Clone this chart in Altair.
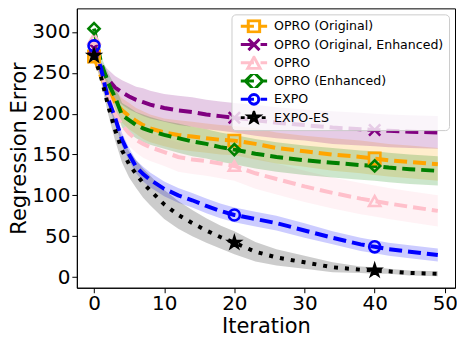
import math
import altair as alt
import pandas as pd

# ---------------- data ----------------
iterations = [0, 1, 2, 3, 4, 5, 6, 7, 8, 10, 12, 14, 16, 18, 20, 23, 26, 30, 34, 38, 40, 42, 45, 49]

series_names = ["OPRO (Original)", "OPRO (Original, Enhanced)", "OPRO",
                "OPRO (Enhanced)", "EXPO", "EXPO-ES"]
series_colors = ["orange", "purple", "pink", "green", "blue", "black"]

opro_original = [270, 245, 228, 214, 204, 197, 191, 186, 182, 177, 174, 172, 170, 168, 167, 163, 158, 154, 150, 147, 145, 143, 141, 138]
opro_original_enh = [280, 255, 242, 232, 226, 221, 217, 214, 211, 207, 204, 202, 199, 197, 195, 192, 189, 186, 183, 181, 180, 179, 178, 177]
opro = [292, 250, 222, 200, 186, 176, 168, 163, 159, 153, 147, 144, 142, 139, 136, 127, 120, 111, 103, 96, 93, 90, 86, 81]
opro_enh = [304, 262, 238, 220, 198, 192, 186, 182, 179, 174, 170, 166, 163, 159, 156, 151, 147, 143, 140, 137, 136, 134, 132, 130]
expo = [283, 255, 218, 195, 168, 150, 135, 126, 119, 108, 100, 94, 87, 81, 76, 71, 66, 57, 48, 40, 37, 34, 31, 27]
expo_es = [271, 245, 210, 180, 155, 138, 126, 115, 106, 89, 76, 66, 57, 49, 42, 31, 24, 18, 12, 9, 8, 7, 5, 4]

sd_opro_original = [3, 8, 12, 14, 15, 16, 16, 17, 17, 17, 18, 18, 18, 18, 18, 19, 19, 19, 20, 20, 20, 20, 20, 20]
sd_opro_original_enh = [3, 8, 12, 14, 15, 16, 16, 17, 17, 17, 18, 18, 18, 18, 18, 19, 19, 19, 20, 20, 20, 20, 20, 20]
sd_opro = [3, 8, 12, 14, 15, 16, 16, 17, 17, 17, 18, 18, 18, 18, 18, 19, 19, 19, 19, 19, 19, 19, 19, 19]
sd_opro_enh = [3, 8, 12, 14, 15, 16, 16, 17, 17, 17, 18, 18, 18, 18, 18, 18, 18, 18, 18, 18, 18, 18, 18, 18]
sd_expo = [3, 5, 6, 7, 8, 8, 8, 9, 9, 9, 9, 9, 9, 9, 9, 9, 9, 9, 8, 8, 8, 8, 8, 8]
sd_expo_es = [3, 6, 10, 13, 15, 16, 17, 18, 18, 18, 17, 16, 15, 14, 14, 12, 10, 8, 6, 4, 4, 3, 3, 3]

marker_iterations = [0, 20, 40]
x_ticks = [0, 10, 20, 30, 40, 50]
y_ticks = [0, 50, 100, 150, 200, 250, 300]

# ---------------- table ----------------
all_vals = [opro_original, opro_original_enh, opro, opro_enh, expo, expo_es]
all_sds = [sd_opro_original, sd_opro_original_enh, sd_opro, sd_opro_enh, sd_expo, sd_expo_es]
rows = []
for k, (name, vals, sds) in enumerate(zip(series_names, all_vals, all_sds)):
    for it, v, s in zip(iterations, vals, sds):
        rows.append({"series": name, "k": k, "iteration": it, "value": v,
                     "lo": v - s, "hi": v + s})
df = pd.DataFrame(rows)

# ---------------- glyphs ----------------
def star_path(r_out, r_in=0.382):
    pts = []
    for i in range(10):
        r = r_out if i % 2 == 0 else r_out * r_in
        a = -math.pi / 2 + i * math.pi / 5
        pts.append(f"{r*math.cos(a):.3f},{r*math.sin(a):.3f}")
    return "M" + "L".join(pts) + "Z"

def circle_path(r):
    return f"M{r},0A{r},{r},0,1,1,{-r},0A{r},{r},0,1,1,{r},0Z"

x_path = "M-1,-1L1,1M-1,1L1,-1"

plot_shapes = ["square", x_path, "triangle-up", "diamond", "circle", star_path(1.0)]
plot_sizes = [130, 121, 156, 300, 95, 95]

dash_seg = "M-2.2,0L0,0M1.1,0L2.2,0"
dot_seg = "M-2.2,0L-1.55,0M-1.1,0L-0.45,0M1.3,0L1.95,0"
h = 0.909
legend_shapes = [
    "M-0.95,-0.95L0.95,-0.95L0.95,0.95L-0.95,0.95Z" + dash_seg,
    "M-0.92,-0.92L0.92,0.92M-0.92,0.92L0.92,-0.92" + dash_seg,
    f"M0,{-h*1.05:.3f}L-1.05,{h*1.05:.3f}L1.05,{h*1.05:.3f}Z" + dash_seg,
    "M-1.45,0L0,-1.45L1.45,0L0,1.45Z" + dash_seg,
    circle_path(0.8) + dash_seg,
    star_path(0.85) + dot_seg,
]
fill_range = ["transparent"] * 5 + ["black"]
dash_range = [[13, 6]] * 5 + [[4, 7]]

# ---------------- encodings ----------------
X = alt.X("iteration:Q", title="Iteration",
          scale=alt.Scale(domain=[-2.45, 51.45], nice=False, zero=False),
          axis=alt.Axis(values=x_ticks, format="d", grid=False))
Y = alt.Y("value:Q", title="Regression Error",
          scale=alt.Scale(domain=[-13.1, 328.9], nice=False, zero=False),
          axis=alt.Axis(values=y_ticks, format="d", grid=False))
color = alt.Color("series:N", scale=alt.Scale(domain=series_names, range=series_colors), legend=None)

base = alt.Chart(df)

bands = base.mark_area(opacity=0.2).encode(
    x=X, y=alt.Y("lo:Q", scale=alt.Scale(domain=[-13.1, 328.9], nice=False, zero=False)),
    y2="hi:Q", color=color, order="k:Q")

lines = base.mark_line(strokeWidth=4, strokeCap="butt").encode(
    x=X, y=Y, color=color,
    strokeDash=alt.StrokeDash("series:N", scale=alt.Scale(domain=series_names, range=dash_range), legend=None))

markers = base.mark_point(filled=True, opacity=1, strokeWidth=2.6).encode(
    x=X, y=Y,
    shape=alt.Shape("series:N", scale=alt.Scale(domain=series_names, range=plot_shapes), legend=None),
    stroke=alt.Stroke("series:N", scale=alt.Scale(domain=series_names, range=series_colors), legend=None),
    fill=alt.Fill("series:N", scale=alt.Scale(domain=series_names, range=fill_range), legend=None),
    size=alt.Size("series:N", scale=alt.Scale(domain=series_names, range=plot_sizes), legend=None),
).transform_filter(alt.FieldOneOfPredicate(field="iteration", oneOf=marker_iterations))

leg = alt.Legend(title=None, orient="top-right", offset=6, symbolSize=144, symbolStrokeWidth=3,
                 symbolOffset=10, labelOffset=12.7, labelFontSize=12.6, labelFont="DejaVu Sans",
                 labelColor="black", rowPadding=4.3, clipHeight=14, padding=5,
                 fillColor="rgba(255,255,255,0.8)",
                 strokeColor="#cccccc", cornerRadius=4, labelLimit=400)

legend_layer = base.mark_point(filled=True, opacity=0, strokeWidth=3).encode(
    x=X, y=Y,
    shape=alt.Shape("series:N", scale=alt.Scale(domain=series_names, range=legend_shapes), legend=leg),
    stroke=alt.Stroke("series:N", scale=alt.Scale(domain=series_names, range=series_colors), legend=leg),
    fill=alt.Fill("series:N", scale=alt.Scale(domain=series_names, range=fill_range), legend=leg),
).transform_filter(alt.datum.iteration == 0)

chart = alt.layer(bands, lines, markers, legend_layer).resolve_scale(
    shape="independent", stroke="independent", fill="independent"
).properties(
    width=379, height=280,
    autosize=alt.AutoSizeParams(type="none"),
    padding={"left": 69, "top": 0, "right": 2, "bottom": 50},
).configure_view(stroke="black", strokeWidth=1).configure_axis(
    labelFont="DejaVu Sans", titleFont="DejaVu Sans", labelFontSize=20, titleFontSize=21,
    titleFontWeight="normal", labelColor="black", titleColor="black",
    domainColor="black", tickColor="black", tickSize=5, labelPadding=2,
).configure_axisY(titlePadding=2).configure_axisX(titlePadding=2, labelPadding=1)

chart.save("out.html", embed_options={"renderer": "svg", "actions": False})
